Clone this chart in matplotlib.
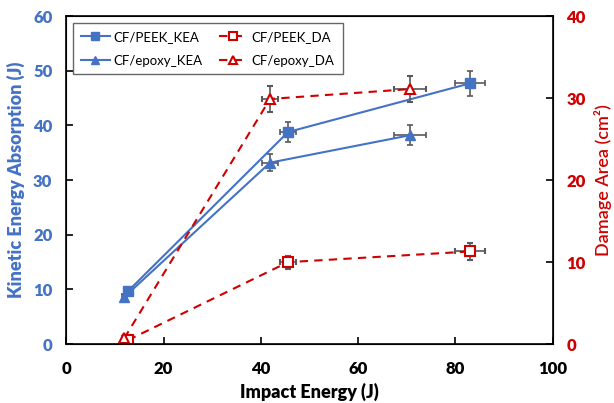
import matplotlib.pyplot as plt
from matplotlib.lines import Line2D

plt.rcParams['font.family'] = ['Lato', 'DejaVu Sans']

blue = '#4472C4'
red = '#D00000'
grey = '#595959'

# CF/PEEK kinetic energy absorption
peek_x = [12.7, 45.6, 83.0]
peek_kea = [9.7, 38.8, 47.7]
peek_xerr = [0.6, 1.6, 3.0]
peek_kea_err = [0.6, 1.8, 2.3]

# CF/epoxy kinetic energy absorption
epoxy_x = [11.9, 41.9, 70.6]
epoxy_kea = [8.6, 33.2, 38.2]
epoxy_xerr = [0.5, 1.6, 3.3]
epoxy_kea_err = [0.5, 1.6, 1.8]

# damage area (cm2)
peek_da = [0.5, 10.0, 11.3]
peek_da_err = [0.3, 0.8, 1.0]
epoxy_da = [0.7, 29.9, 31.1]
epoxy_da_err = [0.3, 1.6, 1.6]

labels = ['CF/PEEK_KEA', 'CF/epoxy_KEA', 'CF/PEEK_DA', 'CF/epoxy_DA']

fig, ax = plt.subplots(figsize=(6.14, 4.03), dpi=100)
ax2 = ax.twinx()

eb = dict(ecolor=grey, elinewidth=1.2, capsize=2.5, capthick=1.2)
dash = (0, (4, 3))

ax.errorbar(peek_x, peek_kea, xerr=peek_xerr, yerr=peek_kea_err, color=blue,
            marker='s', ms=7, lw=1.5, zorder=3, **eb)
ax.errorbar(epoxy_x, epoxy_kea, xerr=epoxy_xerr, yerr=epoxy_kea_err, color=blue,
            marker='^', ms=7, lw=1.5, zorder=3, **eb)
ax2.errorbar(peek_x, peek_da, xerr=peek_xerr, yerr=peek_da_err, color=red,
             marker='s', ms=7, mfc='white', mew=1.5, lw=1.5, ls=dash, **eb)
ax2.errorbar(epoxy_x, epoxy_da, xerr=epoxy_xerr, yerr=epoxy_da_err, color=red,
             marker='^', ms=7, mfc='white', mew=1.5, lw=1.5, ls=dash, **eb)

ax.set_xlim(0, 100)
ax.set_ylim(0, 60)
ax2.set_ylim(0, 40)
ax.set_xticks(range(0, 101, 20))
ax.set_yticks(range(0, 61, 10))
ax2.set_yticks(range(0, 41, 10))

ax.tick_params(axis='x', direction='in', labelsize=12, width=1.2, length=5, pad=12)
ax.tick_params(axis='y', direction='in', labelsize=12, labelcolor=blue, width=1.2, length=5, pad=10)
ax2.tick_params(axis='y', direction='in', labelsize=12, labelcolor=red, width=1.2, length=5, pad=10)
for lab in ax.get_xticklabels() + ax.get_yticklabels() + ax2.get_yticklabels():
    lab.set_fontweight('heavy')
for sp in ax2.spines.values():
    sp.set_linewidth(1.2)

ax.set_xlabel('Impact Energy (J)', fontsize=13, fontweight='heavy', labelpad=4)
ax.set_ylabel('Kinetic Energy Absorption (J)', fontsize=13, fontweight='heavy', color=blue, labelpad=6)
ax2.set_ylabel('Damage Area (cm²)', fontsize=13, fontweight='semibold', color=red, labelpad=6)

handles = [
    Line2D([], [], color=blue, marker='s', ms=6, lw=1.5),
    Line2D([], [], color=blue, marker='^', ms=6, lw=1.5),
    Line2D([], [], color=red, marker='s', ms=6, mfc='white', mew=1.5, lw=1.5, ls=dash),
    Line2D([], [], color=red, marker='^', ms=6, mfc='white', mew=1.5, lw=1.5, ls=dash),
]
leg = ax2.legend(handles, labels, loc='upper left', ncol=2, fontsize=9.5,
                 frameon=True, fancybox=False, edgecolor='#404040',
                 borderaxespad=0.5, handlelength=2.2, handletextpad=0.3,
                 columnspacing=1.2, labelspacing=0.9, borderpad=0.6)
leg.get_frame().set_linewidth(1.0)

fig.subplots_adjust(left=0.108, right=0.9, top=0.96, bottom=0.146)
fig.savefig('out.png', dpi=100)
